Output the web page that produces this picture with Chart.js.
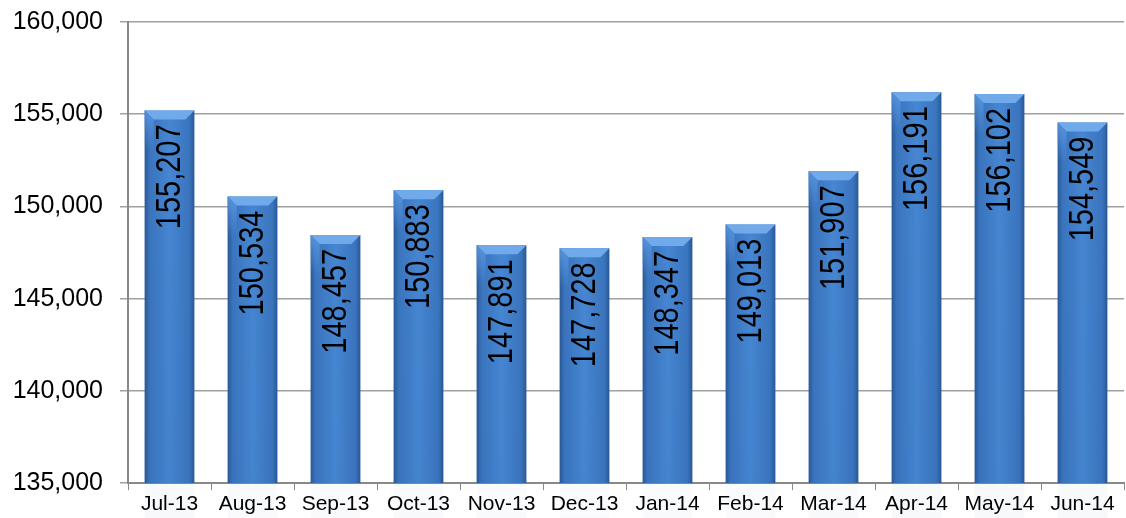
<!DOCTYPE html>
<html>
<head>
<meta charset="utf-8">
<script src="https://cdn.jsdelivr.net/npm/chart.js@4"></script>
<style>
  html, body { margin: 0; padding: 0; background: #fff; }
  #wrap { width: 1126px; height: 518px; }
</style>
</head>
<body>
<div id="wrap"><canvas id="barChart" width="1126" height="518"></canvas></div>
<script>
'use strict';

// ── data ──
const months = ['Jul-13', 'Aug-13', 'Sep-13', 'Oct-13', 'Nov-13', 'Dec-13',
                'Jan-14', 'Feb-14', 'Mar-14', 'Apr-14', 'May-14', 'Jun-14'];
const totals = [155207, 150534, 148457, 150883, 147891, 147728,
                148347, 149013, 151907, 156191, 156102, 154549];
const yTicks = [135000, 140000, 145000, 150000, 155000, 160000];

const FONT = '"Liberation Sans", Arial, sans-serif';
const fmt = (n) => n.toLocaleString('en-US');

// horizontal gradient per bar, gives the rounded Excel look
function barFill(ctx) {
  const chart = ctx.chart;
  const x = chart.scales && chart.scales.x;
  if (!x || ctx.dataIndex === undefined) return '#3a76c0';
  const cx = x.getPixelForValue(ctx.dataIndex);
  const w = (x.width / months.length) * 0.6;
  if (!isFinite(cx) || !isFinite(w) || w <= 0) return '#3a76c0';
  const g = chart.ctx.createLinearGradient(cx - w / 2, 0, cx + w / 2, 0);
  g.addColorStop(0, '#285896');
  g.addColorStop(0.1, '#3a74bd');
  g.addColorStop(0.5, '#4686d2');
  g.addColorStop(0.9, '#3a74bd');
  g.addColorStop(1, '#285896');
  return g;
}

// shading + bevel on bar tops + rotated value labels
const barDecor = {
  id: 'barDecor',
  afterDatasetsDraw(chart) {
    const c = chart.ctx;
    const meta = chart.getDatasetMeta(0);
    meta.data.forEach((bar, i) => {
      const { x, y, width, base } = bar.getProps(['x', 'y', 'width', 'base'], true);
      const l = x - width / 2, r = x + width / 2, b = 9;
      c.save();
      // darker toward the bottom
      const vg = c.createLinearGradient(0, y, 0, base);
      vg.addColorStop(0, 'rgba(20,50,110,0)');
      vg.addColorStop(1, 'rgba(20,50,110,0.22)');
      c.fillStyle = vg;
      c.fillRect(l, y, width, base - y);
      // top bevel
      c.beginPath();
      c.moveTo(l, y); c.lineTo(r, y); c.lineTo(r - b, y + b); c.lineTo(l + b, y + b);
      c.closePath();
      c.fillStyle = '#70aaeb';
      c.fill();
      c.beginPath();
      c.moveTo(l, y); c.lineTo(l + b, y + b); c.lineTo(l + b, y + 40); c.lineTo(l, y + 40);
      c.closePath();
      const sg = c.createLinearGradient(0, y, 0, y + 40);
      sg.addColorStop(0, 'rgba(90,150,225,0.9)');
      sg.addColorStop(1, 'rgba(90,150,225,0)');
      c.fillStyle = sg;
      c.fill();
      c.restore();

      c.save();
      c.translate(x, y + 14);
      c.rotate(-Math.PI / 2);
      c.scale(1, 1.2);
      c.font = '29px ' + FONT;
      c.fillStyle = '#000';
      c.textAlign = 'right';
      c.textBaseline = 'middle';
      c.fillText(fmt(totals[i]), 0, 1);
      c.restore();
    });
  },
};

new Chart(document.getElementById('barChart').getContext('2d'), {
  type: 'bar',
  data: {
    labels: months,
    datasets: [{
      data: totals,
      backgroundColor: barFill,
      borderWidth: 0,
      barPercentage: 0.6,
      categoryPercentage: 1,
    }],
  },
  options: {
    responsive: false,
    animation: false,
    layout: { padding: { left: 0, right: 2, top: 22, bottom: 0 } },
    plugins: { legend: { display: false }, tooltip: { enabled: false } },
    scales: {
      x: {
        grid: { drawOnChartArea: false, drawTicks: true, tickLength: 7, color: '#888' },
        border: { color: '#888', width: 2 },
        ticks: { font: { family: FONT, size: 21, lineHeight: 0.95 }, color: '#000', padding: 4, maxRotation: 0 },
      },
      y: {
        min: yTicks[0],
        max: yTicks[yTicks.length - 1],
        afterBuildTicks: (s) => { s.ticks = yTicks.map((v) => ({ value: v })); },
        afterFit: (s) => { s.width = 128; },
        grid: { color: '#a0a0a0', lineWidth: 1.5, tickLength: 8 },
        border: { color: '#888', width: 2 },
        ticks: {
          font: { family: FONT, size: 25, lineHeight: 0.4 }, color: '#000', padding: 17,
          callback: (v) => fmt(v),
        },
      },
    },
  },
  plugins: [barDecor],
});
</script>
</body>
</html>
